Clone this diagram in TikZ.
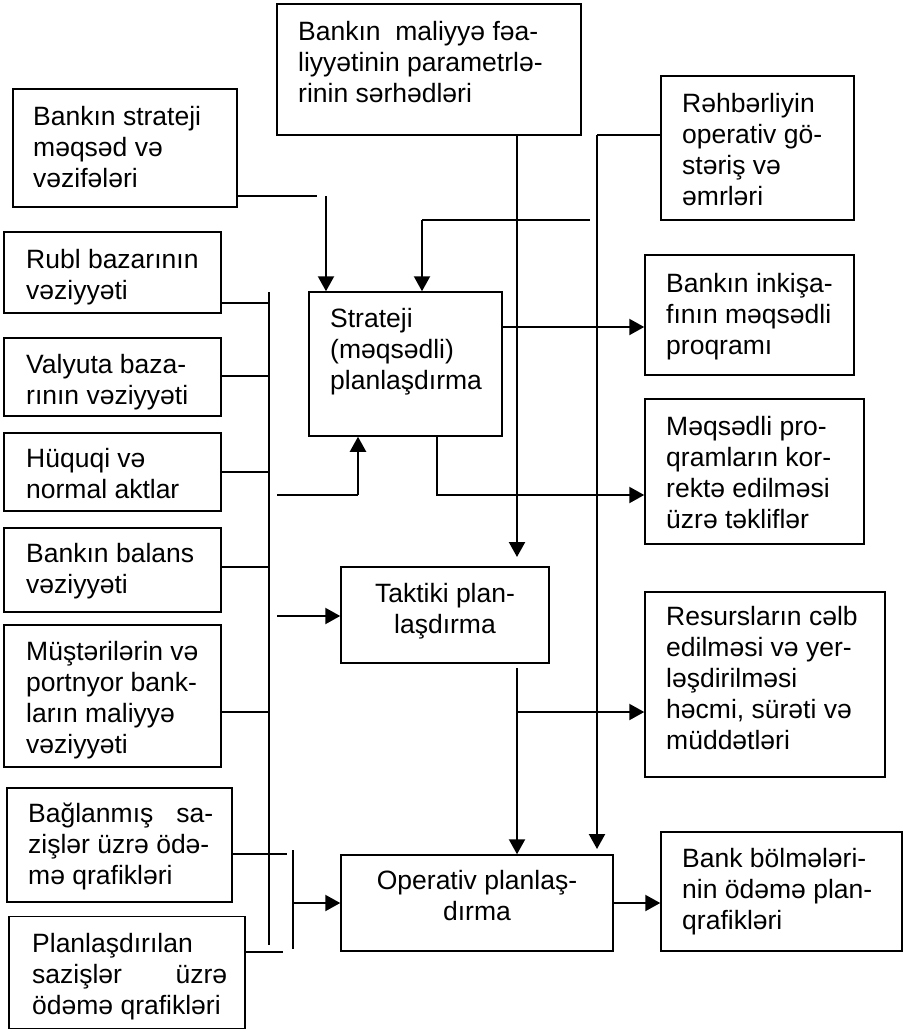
\documentclass[tikz,border=0pt]{standalone}
\usepackage{fontspec}
\setmainfont{Liberation Sans}
\usetikzlibrary{arrows.meta}
\begin{document}
\begin{tikzpicture}[x=1pt,y=-1pt,
  box/.style 2 args={draw, line width=1.5pt, minimum width=#1, minimum height=#2, inner sep=0pt},
  txt/.style={inner sep=0pt, align=left, anchor=north west, font=\fontsize{26.5}{31}\selectfont},
  ctxt/.style={txt, align=center, anchor=north},
  conn/.style={line width=1.7pt},
  flow/.style={line width=2.2pt, -{Triangle[length=15pt,width=16pt]}},
]
\useasboundingbox (0,0) rectangle (905,1030);

% ---------- boxes ----------
\node[box={304pt}{131pt}] (limits)    at (429,69.5)  {};
\node[box={224pt}{118pt}] (goals)     at (125,148)   {};
\node[box={193pt}{144pt}] (orders)    at (757.5,148) {};
\node[box={217pt}{81pt}]  (rubl)      at (112.5,272.5) {};
\node[box={217pt}{78pt}]  (valyuta)   at (112.5,377) {};
\node[box={217pt}{78pt}]  (huquq)     at (112.5,472) {};
\node[box={217pt}{84pt}]  (balans)    at (112.5,570) {};
\node[box={217pt}{142pt}] (clients)   at (112.5,696) {};
\node[box={225pt}{114pt}] (concluded) at (119.5,845) {};
\node[box={236pt}{112pt}] (planned)   at (127,972.5) {};
\node[box={193pt}{144pt}] (strat)     at (405.5,364) {};
\node[box={209pt}{120pt}] (program)   at (749.5,315) {};
\node[box={219pt}{145pt}] (proposals) at (754.5,471.5) {};
\node[box={208pt}{96pt}]  (tactical)  at (445,615)   {};
\node[box={240pt}{185pt}] (resources) at (765,684.5) {};
\node[box={272pt}{96pt}]  (oper)      at (477,903)   {};
\node[box={241pt}{119pt}] (units)     at (781.5,891.5) {};

% ---------- texts ----------
\node[txt] (limits-t) at (298,18.3) {\strut Bankın\ \ maliyyə fəa-\\liyyətinin parametrlə-\\rinin sərhədləri};
\node[txt] (goals-t) at (33,103.3) {\strut Bankın strateji\\məqsəd və\\vəzifələri};
\node[txt] (orders-t) at (682,90.3) {\strut Rəhbərliyin\\operativ gö-\\stəriş və\\əmrləri};
\node[txt] (rubl-t) at (26,246.3) {\strut Rubl bazarının\\vəziyyəti};
\node[txt] (valyuta-t) at (26,351.3) {\strut Valyuta baza-\\rının vəziyyəti};
\node[txt] (huquq-t) at (26,445.3) {\strut Hüquqi və\\normal aktlar};
\node[txt] (balans-t) at (26,540.3) {\strut Bankın balans\\vəziyyəti};
\node[txt] (clients-t) at (26,638.3) {\strut Müştərilərin və\\portnyor bank-\\ların maliyyə\\vəziyyəti};
\node[txt] (concluded-t) at (28,800.3) {\strut\makebox[185pt][s]{Bağlanmış sa-}\\zişlər üzrə ödə-\\mə qrafikləri};
\node[txt] (planned-t) at (32,930.3) {\strut Planlaşdırılan\\\makebox[195pt][s]{sazişlər üzrə}\\ödəmə qrafikləri};
\node[txt] (strat-t) at (330,305.3) {\strut Strateji\\(məqsədli)\\planlaşdırma};
\node[txt] (program-t) at (666,270.3) {\strut Bankın inkişa-\\fının məqsədli\\proqramı};
\node[txt] (proposals-t) at (666,413.3) {\strut Məqsədli pro-\\qramların kor-\\rektə edilməsi\\üzrə təkliflər};
\node[ctxt] (tactical-t) at (445,580.3) {\strut Taktiki plan-\\laşdırma};
\node[txt] (resources-t) at (666,603.3) {\strut Resursların cəlb\\edilməsi və yer-\\ləşdirilməsi\\həcmi, sürəti və\\müddətləri};
\node[ctxt] (oper-t) at (477,867.3) {\strut Operativ planlaş-\\dırma};
\node[txt] (units-t) at (682,845.3) {\strut Bank bölmələri-\\nin ödəmə plan-\\qrafikləri};

% ---------- junction points ----------
\coordinate (g1) at (317,196);
\coordinate (g2) at (326,196);
\coordinate (h1) at (422,220);
\coordinate (h2) at (590,220);
\coordinate (o1) at (597,135);
\coordinate (o2) at (597,849);
\coordinate (l1) at (517,557);
\coordinate (p1) at (600,327);
\coordinate (q1) at (437,495);
\coordinate (busT) at (269,292);
\coordinate (busB) at (269,945);
\coordinate (b1) at (269,303);
\coordinate (b2) at (269,376);
\coordinate (b3) at (269,472);
\coordinate (b4) at (269,567);
\coordinate (b5) at (269,712);
\coordinate (c1) at (287,854);
\coordinate (c2) at (283,952);
\coordinate (barT) at (293,850);
\coordinate (barB) at (293,949);
\coordinate (barM) at (293,903);
\coordinate (a1) at (277,495);
\coordinate (a2) at (358,495);
\coordinate (a3) at (277,616);
\coordinate (t2) at (517,668);
\coordinate (t3) at (517,712);
\coordinate (u1) at (630,903);

% ---------- connectors ----------
% strategic goals into strategic planning
\draw[conn] (goals.east |- g1) -- (g1);
\draw[flow] (g2) -- (g2 |- strat.north);
% management orders
\draw[conn] (orders.west |- o1) -- (o1);
\draw[flow] (o1) -- (o2);
\draw[conn] (h2) -- (h1);
\draw[flow] (h1) -- (h1 |- strat.north);
% parameter limits down to tactical planning
\draw[flow] (l1 |- limits.south) -- (l1);
% outputs of strategic planning
\draw[flow] (strat.east |- p1) -- (program.west |- p1);
\draw[flow] (q1 |- strat.south) -- (q1) -- (proposals.west |- q1);
% input bus on the left
\draw[conn] (busT) -- (busB);
\draw[conn] (rubl.east |- b1) -- (b1);
\draw[conn] (valyuta.east |- b2) -- (b2);
\draw[conn] (huquq.east |- b3) -- (b3);
\draw[conn] (balans.east |- b4) -- (b4);
\draw[conn] (clients.east |- b5) -- (b5);
\draw[conn] (concluded.east |- c1) -- (c1);
\draw[conn] (planned.east |- c2) -- (c2);
\draw[conn] (barT) -- (barB);
\draw[flow] (barM) -- (oper.west |- barM);
\draw[conn] (a1) -- (a2);
\draw[flow] (a2) -- (a2 |- strat.south);
\draw[flow] (a3) -- (tactical.west |- a3);
% tactical planning outputs
\draw[flow] (t2) -- (t2 |- oper.north);
\draw[flow] (t3) -- (resources.west |- t3);
% operative planning output
\draw[flow] (oper.east |- u1) -- (units.west |- u1);
\end{tikzpicture}
\end{document}
